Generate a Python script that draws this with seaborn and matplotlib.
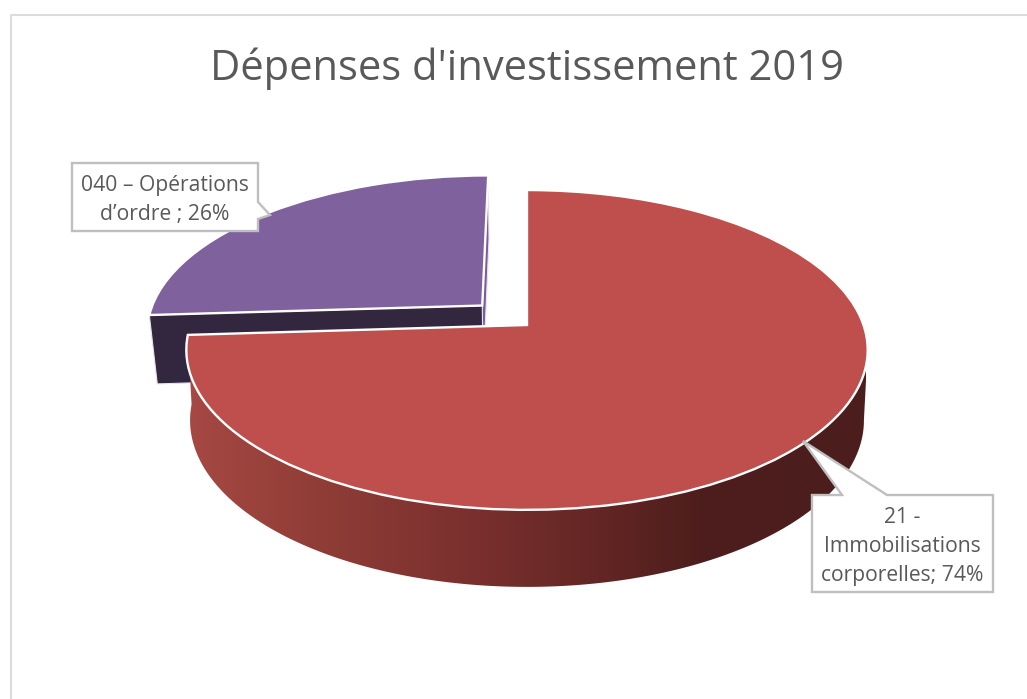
import numpy as np
import matplotlib
matplotlib.use("Agg")
import matplotlib.pyplot as plt
from matplotlib.transforms import Transform
from matplotlib.patches import Polygon
import seaborn as sns

# ---- data ----
categories = ["21 - Immobilisations corporelles", "040 – Opérations d’ordre"]
shares = [74, 26]
callouts = ["21 -\nImmobilisations\ncorporelles; 74%", "040 – Opérations\nd’ordre ; 26%"]
title = "Dépenses d'investissement 2019"
explode = [0, 0.186]

# ---- style ----
top_colors = ["#BE4F4C", "#7F619D"]
cut_dark = "#32273F"
cut_light = "#7A5C9C"
rim_colors = ["#A64843", "#933E38", "#7A302E", "#632624", "#4D1E1D", "#4B1D1C"]
rim_stops = [190, 300, 470, 600, 700, 866]
grey_text = "#595959"
box_edge = "#BFBFBF"
frame_col = "#DCDCDC"

W, H = 1027, 699
VX, VY = 527, 325     # view centre on screen (pixels)
RX, RY = 336.5, 156   # ellipse half-axes
K = 0.156             # perspective strength
SKEW_PURPLE = 0.021   # side lines converge towards VX
SKEW_RED = 0.011

sns.set_theme(style="white")
plt.rcParams["font.family"] = ["Open Sans", "DejaVu Sans"]


def project(p):
    """Unit-disc pie coordinates to screen pixels."""
    p = np.asarray(p, float)
    w = 1 + K * p[..., 1]
    return np.stack([VX + RX * p[..., 0] / w, VY - RY * p[..., 1] / w], axis=-1)


def drop(q, skew):
    """Screen point on top face to the matching point on the bottom face."""
    q = np.asarray(q, float)
    d = 69 + (q[..., 1] - 318) * 0.042
    return np.stack([q[..., 0] + (VX - q[..., 0]) * skew, q[..., 1] + d], axis=-1)


class Perspective(Transform):
    input_dims = output_dims = 2
    is_separable = False
    has_inverse = False

    def transform_non_affine(self, values):
        return project(values)


fig = plt.figure(figsize=(W / 100, H / 100), dpi=100, facecolor="white")
ax = fig.add_axes([0, 0, 1, 1])

wedges, _ = ax.pie(
    shares, explode=explode, colors=top_colors, startangle=90, counterclock=False,
    wedgeprops=dict(edgecolor="white", linewidth=1.7),
)
tr = Perspective() + ax.transData
for w in wedges:
    w.set_transform(tr)
    w.set_clip_on(False)
red, purple = wedges
purple.set_zorder(3)
red.set_zorder(6)


def disc_point(w, deg):
    a = np.deg2rad(np.asarray(deg, float))
    return project(np.stack([w.center[0] + w.r * np.cos(a), w.center[1] + w.r * np.sin(a)], axis=-1))


# purple slice: the two cut faces
apex = project(np.array(purple.center))
ends = [disc_point(purple, purple.theta1), disc_point(purple, purple.theta2)]
left_end, right_end = sorted(ends, key=lambda q: q[0])
ax.add_patch(Polygon([apex, right_end, drop(right_end, SKEW_PURPLE), drop(apex, SKEW_PURPLE)], closed=True,
                     facecolor=cut_light, edgecolor="#E8E2F0", lw=0.8, zorder=1))
ax.add_patch(Polygon([apex, left_end, drop(left_end, SKEW_PURPLE), drop(apex, SKEW_PURPLE)], closed=True,
                     facecolor=cut_dark, edgecolor="#E6E3EA", lw=0.8, zorder=2))

# red slice: the visible rim, one gradient clipped to the rim outline
cmap = matplotlib.colors.LinearSegmentedColormap.from_list(
    "rim", list(zip((np.array(rim_stops) - rim_stops[0]) / (rim_stops[-1] - rim_stops[0]), rim_colors)))
angles = np.linspace(red.theta1, red.theta2, 721)
angles = angles[: np.argmax(disc_point(red, angles)[:, 0]) + 1]   # front part, up to the right-most point
front = disc_point(red, angles)
outline = np.vstack([front, drop(front, SKEW_RED)[::-1]])
rim_patch = Polygon(outline, closed=True, facecolor="none", edgecolor="none", zorder=4)
ax.add_patch(rim_patch)
img = ax.imshow(np.linspace(0, 1, 512)[None, :], cmap=cmap, aspect="auto",
                extent=(rim_stops[0], rim_stops[-1], H, 0), zorder=4, interpolation="bilinear")
img.set_clip_path(rim_patch)

ax.set_aspect("auto")
ax.set_xlim(0, W)
ax.set_ylim(H, 0)
ax.axis("off")

# frame
ax.plot([W, 11, 11], [14.5, 14.5, H], color=frame_col, lw=1.5, zorder=0, clip_on=False)

# title
ax.text(526.5, 80, title, ha="center", va="baseline", fontsize=30, color=grey_text, zorder=9)


def callout(text, box, tail, fs=15.2):
    x0, y0, x1, y1 = box
    if tail[0][0] == x1:      # tail on the right side
        pts = [(x0, y0), (x1, y0), tail[0], tail[1], tail[2], (x1, y1), (x0, y1)]
    else:                     # tail on the top side
        pts = [(x0, y0), tail[0], tail[1], tail[2], (x1, y0), (x1, y1), (x0, y1)]
    ax.add_patch(Polygon(pts, closed=True, facecolor="white", edgecolor=box_edge,
                         lw=1.7, zorder=8, joinstyle="miter"))
    ax.text((x0 + x1) / 2, (y0 + y1) / 2 + 3, text, ha="center", va="center", fontsize=fs,
            color=grey_text, linespacing=1.5, zorder=9)


callout(callouts[1], (72, 163, 258, 231), [(258, 202), (270, 215), (258, 219)])
callout(callouts[0], (812, 495, 993, 592), [(842, 495), (803, 441), (887, 495)])

fig.savefig("out.png", dpi=100, facecolor="white")
